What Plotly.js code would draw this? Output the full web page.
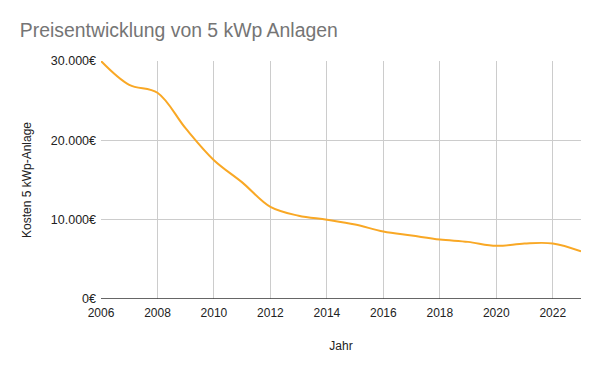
<!DOCTYPE html>
<html><head><meta charset="utf-8">
<script src="https://cdn.plot.ly/plotly-3.0.1.min.js"></script>
<style>html,body{margin:0;padding:0;background:#fff}#c{width:600px;height:371px}</style>
</head><body><div id="c"></div>
<script>
const years = [2006,2007,2008,2009,2010,2011,2012,2013,2014,2015,2016,2017,2018,2019,2020,2021,2022,2023];
const costs = [30000,27000,26000,21500,17500,14700,11600,10500,10000,9400,8500,8000,7500,7200,6700,7000,7000,6000];
const yTickVals = [0,10000,20000,30000];
const yTickText = ['0€','10.000€','20.000€','30.000€'];
const xTickVals = [2006,2008,2010,2012,2014,2016,2018,2020,2022];

Plotly.newPlot('c', [{
  x: years, y: costs, type: 'scatter', mode: 'lines',
  line: {color: '#f9a825', width: 2, shape: 'spline', smoothing: 1},
  hoverinfo: 'none'
}], {
  width: 600, height: 371,
  margin: {l: 101, r: 19, t: 61, b: 72},
  paper_bgcolor: '#fff', plot_bgcolor: '#fff',
  font: {family: 'Liberation Sans, Arial, sans-serif', size: 12, color: '#222'},
  title: {text: 'Preisentwicklung von 5 kWp Anlagen', x: 0.033, xanchor: 'left', y: 0.918, yanchor: 'middle',
          font: {size: 19.4, color: '#757575'}},
  showlegend: false,
  xaxis: {range: [2006, 2023], tickvals: xTickVals, ticktext: xTickVals.map(String),
          showgrid: true, gridcolor: '#cccccc', gridwidth: 1, zeroline: false,
          showline: false, ticks: '', ticklabelstandoff: 5, tickfont: {size: 12, color: '#222'},
          title: {text: 'Jahr', font: {size: 12, color: '#222'}, standoff: 22}},
  yaxis: {range: [0, 30000], tickvals: yTickVals, ticktext: yTickText,
          showgrid: true, gridcolor: '#cccccc', gridwidth: 1, zeroline: false,
          showline: false, ticks: '', ticklabelstandoff: 4, tickfont: {size: 12.5, color: '#222'},
          title: {text: 'Kosten 5 kWp-Anlage', font: {size: 12, color: '#222'}, standoff: 16}},
  shapes: [{type: 'line', xref: 'paper', yref: 'y', x0: 0, x1: 1, y0: 0, y1: 0,
            line: {color: '#333', width: 1.3}}]
}, {displayModeBar: false, staticPlot: true});
</script></body></html>
